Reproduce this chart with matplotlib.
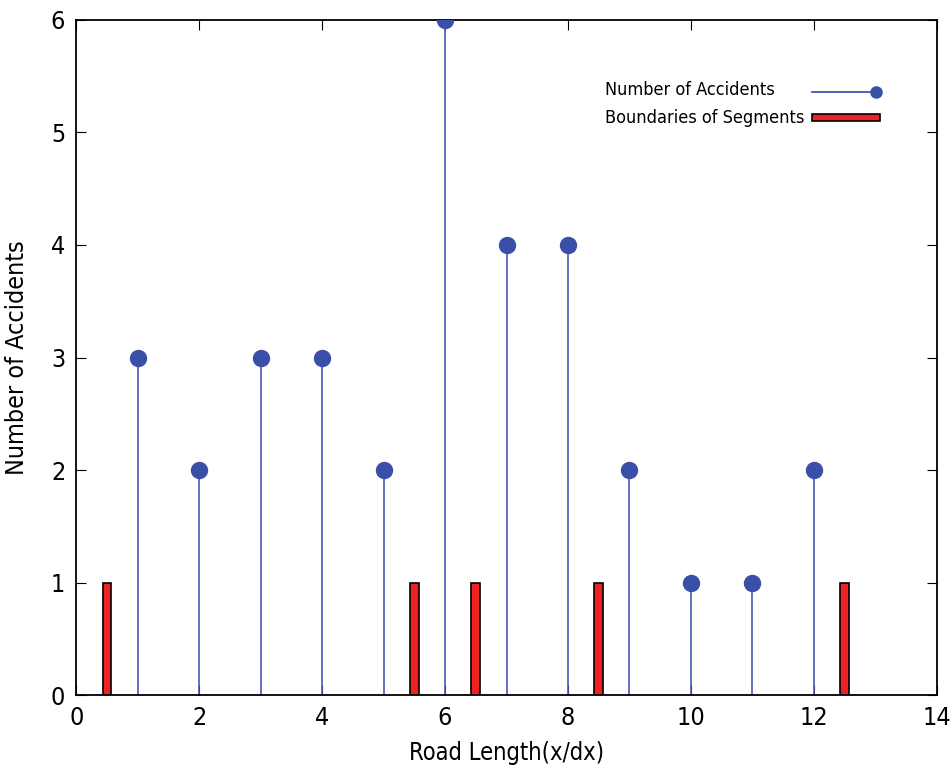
import matplotlib.pyplot as plt
from matplotlib.patches import Rectangle

# accidents per road cell
cells = [1, 2, 3, 4, 5, 6, 7, 8, 9, 10, 11, 12]
accidents = [3, 2, 3, 3, 2, 6, 4, 4, 2, 1, 1, 2]

# segment boundaries
bounds = [0.5, 5.5, 6.5, 8.5, 12.5]
bound_h = [1, 1, 1, 1, 1]

plt.rcParams['font.family'] = ['DejaVu Sans']
plt.rcParams['font.stretch'] = 'condensed'

fig = plt.figure(figsize=(9.53, 7.68), dpi=100)
ax = fig.add_axes([0.08, 0.095, 0.903, 0.879])

blue = '#3a4fa8'
ax.vlines(cells, 0, accidents, color='#4a56b0', lw=1.2, zorder=2)
ax.plot(cells, accidents, 'o', color=blue, ms=11.5, zorder=3)
ax.bar(bounds, bound_h, width=0.14, color='#ee2222', edgecolor='black', lw=1.2, zorder=2)

ax.set_xlim(0, 14)
ax.set_ylim(0, 6)
ax.set_xticks(range(0, 15, 2))
ax.set_yticks(range(0, 7))
ax.tick_params(direction='in', top=True, right=True, labelsize=18, length=7, pad=8)
for sp in ax.spines.values():
    sp.set_linewidth(1.3)
ax.set_xlabel('Road Length(x/dx)', fontsize=17, labelpad=8)
ax.set_ylabel('Number of Accidents', fontsize=18, labelpad=16)

# legend drawn by hand (text left, sample right)
ax.text(0.614, 0.896, 'Number of Accidents', transform=ax.transAxes, fontsize=13,
        va='center')
ax.text(0.614, 0.855, 'Boundaries of Segments', transform=ax.transAxes, fontsize=13,
        va='center')
ax.plot([0.855, 0.929], [0.893, 0.893], color='#4a56b0', lw=1.3, transform=ax.transAxes)
ax.plot([0.929], [0.893], 'o', color=blue, ms=8, transform=ax.transAxes)
ax.add_patch(Rectangle((0.855, 0.851), 0.079, 0.009, transform=ax.transAxes,
                       facecolor='#ee2222', edgecolor='black', lw=1.2))

fig.savefig('out.png')
